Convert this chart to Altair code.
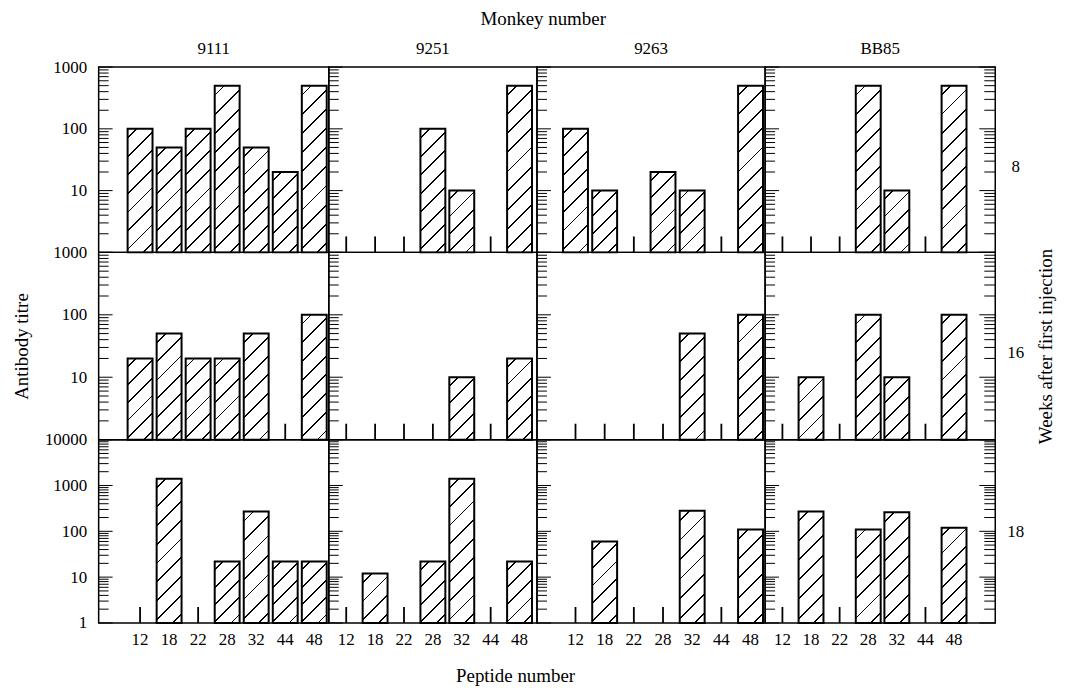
import math
import altair as alt
import pandas as pd

# ---------------- data ----------------
monkeys = ["9111", "9251", "9263", "BB85"]
weeks = ["8", "16", "18"]
peptides = ["12", "18", "22", "28", "32", "44", "48"]

# antibody titres (None = not detected, drawn as a short tick)
w8_9111 = [100, 50, 100, 500, 50, 20, 500]
w8_9251 = [None, None, None, 100, 10, None, 500]
w8_9263 = [100, 10, None, 20, 10, None, 500]
w8_BB85 = [None, None, None, 500, 10, None, 500]

w16_9111 = [20, 50, 20, 20, 50, None, 100]
w16_9251 = [None, None, None, None, 10, None, 20]
w16_9263 = [None, None, None, None, 50, None, 100]
w16_BB85 = [None, 10, None, 100, 10, None, 100]

w18_9111 = [None, 1400, None, 22, 270, 22, 22]
w18_9251 = [None, 12, None, 22, 1400, None, 22]
w18_9263 = [None, 60, None, None, 280, None, 110]
w18_BB85 = [None, 270, None, 110, 260, None, 120]

# axis tick values
labels_short = [10, 100, 1000]
labels_long = [1, 10, 100, 1000, 10000]
major_short = [1, 10, 100, 1000]
minor_short = [2, 3, 4, 5, 6, 7, 8, 9,
               20, 30, 40, 50, 60, 70, 80, 90,
               200, 300, 400, 500, 600, 700, 800, 900]
major_long = [1, 10, 100, 1000, 10000]
minor_long = minor_short + [2000, 3000, 4000, 5000, 6000, 7000, 8000, 9000]
row_label_at = [25, 25, 100]   # where the week label sits on each row's scale

rows_data = [
    [w8_9111, w8_9251, w8_9263, w8_BB85],
    [w16_9111, w16_9251, w16_9263, w16_BB85],
    [w18_9111, w18_9251, w18_9263, w18_BB85],
]

# ---------------- layout / style ----------------
FONT = "Liberation Serif"
col_widths = [231, 209, 229, 231]
row_heights = [186, 188, 184]
x_ranges = [[27, 231], [3, 206], [24, 229], [3, 204]]
y_domains = [1000, 1000, 10000]
BAR_W = 25
LBL = 17


def hatch(h, w=BAR_W, p=13.0, lw=1.3):
    """Diagonal '/' hatching as a striped linear gradient for a bar of w x h px."""
    h = max(h, 4.0)
    r = h / w
    dx = (1 + r) / (1 + r * r)
    dy = r * dx
    n = max(1, round((w + h) / (math.sqrt(2) * p)))
    pa = (w + h) / (math.sqrt(2) * n)
    f = lw / pa
    stops = [{"offset": 0, "color": "white"}]
    for i in range(n):
        a = (i + 0.5 - f / 2) / n
        b = (i + 0.5 + f / 2) / n
        stops += [
            {"offset": a, "color": "white"},
            {"offset": a, "color": "black"},
            {"offset": b, "color": "black"},
            {"offset": b, "color": "white"},
        ]
    stops.append({"offset": 1, "color": "white"})
    return {"gradient": "linear", "x1": 0, "y1": 0, "x2": dx, "y2": dy, "stops": stops}


def panel(r, c):
    vals = rows_data[r][c]
    df = pd.DataFrame({"peptide": peptides, "titre": vals})
    W, H = col_widths[c], row_heights[r]
    D = y_domains[r]
    yscale = alt.Scale(type="log", domain=[1, D], nice=False)
    xscale = alt.Scale(domain=peptides, range=x_ranges[c], paddingInner=0, paddingOuter=0)

    if r == 2:
        xkw = dict(ticks=False, domain=False, labelAngle=0, labelPadding=9,
                   labelFontSize=LBL, grid=False)
        if c == 1:
            xaxis = alt.Axis(title="Peptide number", titleX=187, titleAlign="center",
                             titlePadding=19, titleFontSize=19, titleFontWeight="normal",
                             **xkw)
        else:
            xaxis = alt.Axis(title=None, **xkw)
    else:
        xaxis = None

    if c == 0:
        yaxis = alt.Axis(values=labels_long if r == 2 else labels_short, format="d",
                         title="Antibody titre" if r == 1 else None,
                         ticks=False, domain=False, grid=False, labelPadding=12,
                         labelFontSize=LBL, titleFontSize=19, titlePadding=21,
                         titleFontWeight="normal")
    elif c == 3:
        yaxis = alt.Axis(orient="right", values=[row_label_at[r]],
                         labelExpr=f"'{weeks[r]}'", labelFontSize=LBL, labelPadding=20,
                         labelAlign="center",
                         ticks=False, domain=False, grid=False,
                         title="Weeks after first injection" if r == 1 else None,
                         titleAngle=270, titleBaseline="top", titleFontSize=19,
                         titleFontWeight="normal", titlePadding=13)
    else:
        yaxis = None

    present = sorted({v for v in vals if v is not None})
    conds = []
    for v in present:
        h = H * math.log10(v) / math.log10(D)
        conds.append({"test": f"datum.titre == {v}", "value": hatch(h)})
    fill = alt.value("white", condition=conds) if conds else alt.value("white")

    base = alt.Chart(df)
    bars = base.transform_filter("isValid(datum.titre)").mark_bar(
        width=BAR_W, stroke="black", strokeWidth=2
    ).encode(
        x=alt.X("peptide:N", scale=xscale, axis=xaxis, sort=peptides),
        y=alt.Y("titre:Q", scale=yscale, axis=yaxis),
        y2=alt.datum(1),
        fill=fill,
    )
    nd = base.transform_filter("!isValid(datum.titre)").mark_rule(
        color="black", strokeWidth=1.8
    ).encode(
        x=alt.X("peptide:N", scale=xscale, axis=xaxis, sort=peptides, bandPosition=0.5),
        y=alt.value(H - 16),
        y2=alt.value(H),
    )

    major = major_long if r == 2 else major_short
    minor = minor_long if r == 2 else minor_short
    tmaj = pd.DataFrame({"tv": major})
    tmin = pd.DataFrame({"tv": minor})

    def tick_layer(tdf, x0, x1):
        return alt.Chart(tdf).mark_rule(color="black", strokeWidth=1).encode(
            y=alt.Y("tv:Q", scale=yscale, axis=yaxis),
            x=alt.value(x0),
            x2=alt.value(x1),
        )

    layers = [bars, nd, tick_layer(tmaj, 0, 14), tick_layer(tmin, 0, 10)]
    if c == 3:
        layers += [tick_layer(tmaj, W, W - 16), tick_layer(tmin, W, W - 11)]

    ch = alt.layer(*layers).properties(width=W, height=H)
    if r == 0:
        ch = ch.properties(title=alt.TitleParams(monkeys[c], fontSize=LBL, fontWeight="normal",
                                                 offset=0 if c == 0 else 9, font=FONT,
                                                 color="black", anchor="middle",
                                                 frame="group"))
    return ch


panels = [panel(r, c) for r in range(3) for c in range(4)]
chart = alt.concat(*panels, columns=4, spacing=0, bounds="flush").properties(
    title=alt.TitleParams("Monkey number", anchor="middle", fontSize=19, offset=10, dx=9,
                          fontWeight="normal", font=FONT, color="black"),
    padding={"left": 4, "top": 0, "right": 5, "bottom": 5},
)

chart = chart.configure(font=FONT, background="white").configure_view(
    stroke="black", strokeWidth=1.5
).configure_axis(
    labelFont=FONT, titleFont=FONT, labelColor="black", titleColor="black"
).configure_title(font=FONT, color="black", fontWeight="normal")

chart.save("out.html", embed_options={"renderer": "svg", "actions": False})
